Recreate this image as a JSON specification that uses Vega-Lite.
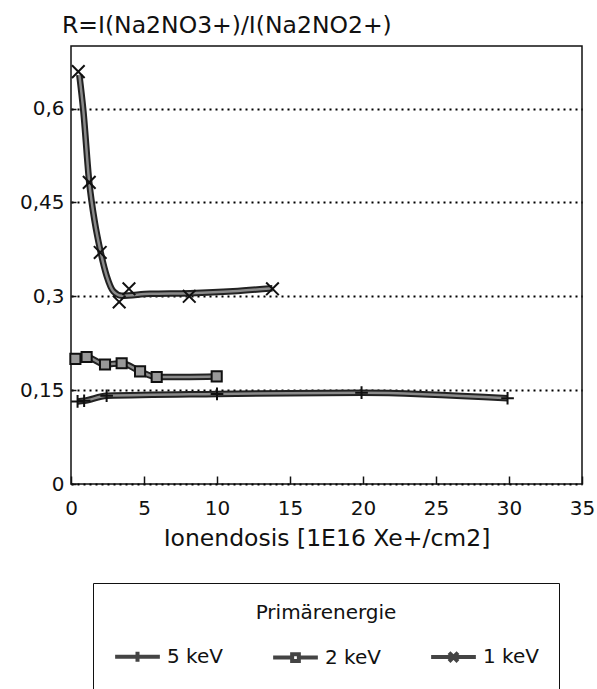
{
  "$schema": "https://vega.github.io/schema/vega-lite/v6.json",
  "width": 511,
  "height": 438,
  "autosize": {"type": "none"},
  "padding": {"left": 71, "top": 46, "right": 15, "bottom": 205},
  "background": "white",
  "config": {
    "font": "DejaVu Sans",
    "view": {"stroke": "#111", "strokeWidth": 1.5}
  },
  "title": {
    "text": "R=I(Na2NO3+)/I(Na2NO2+)",
    "anchor": "start",
    "frame": "group",
    "dx": -9,
    "offset": 9,
    "fontSize": 23.5,
    "fontWeight": "normal",
    "color": "#111"
  },
  "datasets": {
    "markers": [
      {"energy": "5 keV", "dose": 0.45, "R": 0.132},
      {"energy": "5 keV", "dose": 0.9, "R": 0.133},
      {"energy": "5 keV", "dose": 2.44, "R": 0.141},
      {"energy": "5 keV", "dose": 10.0, "R": 0.144},
      {"energy": "5 keV", "dose": 19.9, "R": 0.146},
      {"energy": "5 keV", "dose": 29.9, "R": 0.137},
      {"energy": "2 keV", "dose": 0.3, "R": 0.2},
      {"energy": "2 keV", "dose": 1.07, "R": 0.203},
      {"energy": "2 keV", "dose": 2.33, "R": 0.191},
      {"energy": "2 keV", "dose": 3.47, "R": 0.193},
      {"energy": "2 keV", "dose": 4.73, "R": 0.18},
      {"energy": "2 keV", "dose": 5.87, "R": 0.171},
      {"energy": "2 keV", "dose": 9.98, "R": 0.172},
      {"energy": "1 keV", "dose": 0.5, "R": 0.659},
      {"energy": "1 keV", "dose": 1.25, "R": 0.482},
      {"energy": "1 keV", "dose": 2.0, "R": 0.37},
      {"energy": "1 keV", "dose": 3.3, "R": 0.291},
      {"energy": "1 keV", "dose": 3.97, "R": 0.312},
      {"energy": "1 keV", "dose": 8.1, "R": 0.3},
      {"energy": "1 keV", "dose": 13.8, "R": 0.312}
    ],
    "curves": [
      {"energy": "5 keV", "dose": 0.45, "R": 0.132},
      {"energy": "5 keV", "dose": 0.9, "R": 0.133},
      {"energy": "5 keV", "dose": 2.44, "R": 0.141},
      {"energy": "5 keV", "dose": 10.0, "R": 0.144},
      {"energy": "5 keV", "dose": 19.9, "R": 0.146},
      {"energy": "5 keV", "dose": 29.9, "R": 0.137},
      {"energy": "2 keV", "dose": 0.3, "R": 0.2},
      {"energy": "2 keV", "dose": 1.07, "R": 0.203},
      {"energy": "2 keV", "dose": 2.33, "R": 0.191},
      {"energy": "2 keV", "dose": 3.47, "R": 0.193},
      {"energy": "2 keV", "dose": 4.73, "R": 0.18},
      {"energy": "2 keV", "dose": 5.87, "R": 0.171},
      {"energy": "2 keV", "dose": 9.98, "R": 0.172},
      {"energy": "1 keV", "dose": 0.57, "R": 0.654},
      {"energy": "1 keV", "dose": 0.84, "R": 0.598},
      {"energy": "1 keV", "dose": 1.25, "R": 0.482},
      {"energy": "1 keV", "dose": 1.64, "R": 0.417},
      {"energy": "1 keV", "dose": 1.99, "R": 0.375},
      {"energy": "1 keV", "dose": 2.45, "R": 0.332},
      {"energy": "1 keV", "dose": 2.9, "R": 0.308},
      {"energy": "1 keV", "dose": 3.47, "R": 0.301},
      {"energy": "1 keV", "dose": 5.4, "R": 0.304},
      {"energy": "1 keV", "dose": 8.15, "R": 0.305},
      {"energy": "1 keV", "dose": 11.1, "R": 0.308},
      {"energy": "1 keV", "dose": 13.8, "R": 0.313}
    ]
  },
  "encoding": {
    "x": {
      "field": "dose",
      "type": "quantitative",
      "scale": {"domain": [0, 35], "nice": false, "zero": false},
      "axis": {
        "title": "Ionendosis [1E16 Xe+/cm2]",
        "values": [0, 5, 10, 15, 20, 25, 30, 35],
        "grid": false,
        "domain": false,
        "tickSize": -8,
        "tickColor": "#111",
        "tickWidth": 1.5,
        "labelFontSize": 20,
        "labelColor": "#111",
        "labelPadding": 22,
        "labelFlush": false,
        "titleFontSize": 23.5,
        "titleFontWeight": "normal",
        "titleColor": "#111",
        "titlePadding": 8
      }
    },
    "y": {
      "field": "R",
      "type": "quantitative",
      "scale": {"domain": [0, 0.7], "nice": false},
      "axis": {
        "title": null,
        "values": [0, 0.15, 0.3, 0.45, 0.6],
        "grid": true,
        "gridDash": [2, 4],
        "gridColor": "#000",
        "gridWidth": 2,
        "gridOpacity": 1,
        "domain": false,
        "tickSize": -5,
        "tickColor": "#111",
        "tickWidth": 1.5,
        "labelExpr": "replace(format(datum.value, '.2~f'), '.', ',')",
        "labelFontSize": 20,
        "labelColor": "#111",
        "labelPadding": 12
      }
    }
  },
  "layer": [
    {
      "data": {"name": "curves"},
      "mark": {"type": "line", "interpolate": "monotone", "stroke": "#222", "strokeWidth": 6.5},
      "encoding": {"detail": {"field": "energy", "type": "nominal"}}
    },
    {
      "data": {"name": "curves"},
      "mark": {"type": "line", "interpolate": "monotone", "stroke": "#8a8a8a", "strokeWidth": 2.5},
      "encoding": {"detail": {"field": "energy", "type": "nominal"}}
    },
    {
      "data": {"name": "markers"},
      "mark": {"type": "point", "filled": false, "stroke": "#444", "strokeWidth": 4, "size": 500, "opacity": 0},
      "encoding": {
        "shape": {
          "field": "energy",
          "type": "nominal",
          "scale": {
            "domain": ["5 keV", "2 keV", "1 keV"],
            "range": [
              "M-2,0H2M0,-0.45V0.45",
              "M-2,0H-0.3M0.3,0H2M-0.3,-0.3H0.3V0.3H-0.3Z",
              "M-2,0H2M-0.4,-0.4L0.4,0.4M-0.4,0.4L0.4,-0.4"
            ]
          },
          "legend": {
            "title": "Primärenergie",
            "orient": "none",
            "legendX": 22,
            "legendY": 537,
            "direction": "horizontal",
            "columns": 3,
            "padding": 20,
            "strokeColor": "#111",
            "titleAnchor": "middle",
            "titleFontSize": 20,
            "titleFontWeight": "normal",
            "titleColor": "#111",
            "titlePadding": 20,
            "labelFontSize": 20,
            "labelColor": "#111",
            "labelOffset": 16,
            "symbolOffset": 11,
            "symbolSize": 500,
            "columnPadding": 42,
            "symbolStrokeWidth": 4,
            "symbolStrokeColor": "#444",
            "symbolOpacity": 1
          }
        }
      }
    },
    {
      "data": {"name": "markers"},
      "mark": {"type": "point", "filled": true, "fill": "#999", "stroke": "#111", "strokeWidth": 2, "size": 160, "opacity": 1},
      "encoding": {
        "shape": {
          "field": "energy",
          "type": "nominal",
          "scale": {
            "domain": ["5 keV", "2 keV", "1 keV"],
            "range": ["M0,-1V1M-1,0H1", "M-0.8,-0.8H0.8V0.8H-0.8Z", "M-1,-1L1,1M-1,1L1,-1"]
          },
          "legend": null
        }
      }
    }
  ],
  "resolve": {"scale": {"shape": "independent"}, "legend": {"shape": "independent"}}
}
